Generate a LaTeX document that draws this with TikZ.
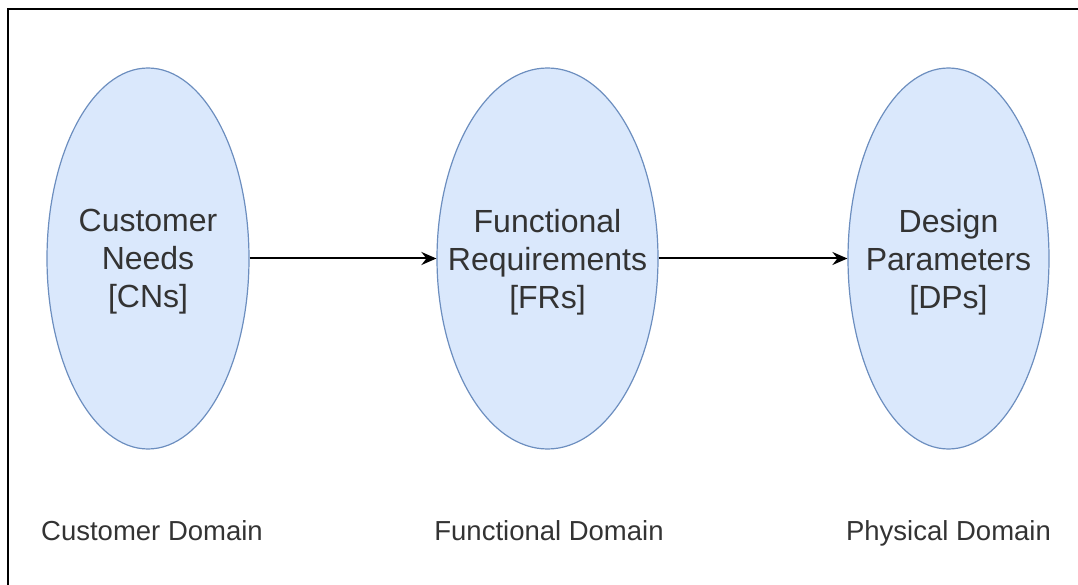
\documentclass[tikz,border=0pt]{standalone}
\usepackage{fontspec}
\setmainfont{Liberation Sans}
\usetikzlibrary{shapes.geometric,arrows.meta}
\definecolor{efill}{HTML}{DAE8FC}
\definecolor{edraw}{HTML}{6C8EBF}
\definecolor{txt}{HTML}{333333}
\tikzset{
  dom/.style={ellipse, draw=edraw, fill=efill, line width=1.2pt, inner sep=0pt,
    minimum height=381pt},
  inner/.style={text=txt, align=center, font=\fontsize{32pt}{38pt}\selectfont},
  domlabel/.style={text=txt, font=\fontsize{27.5pt}{32pt}\selectfont, anchor=base},
  conn/.style={draw=black, line width=2pt, -{Stealth[length=15pt,width=13pt,inset=5pt]}},
}
\begin{document}
\begin{tikzpicture}[x=1pt,y=-1pt]
\useasboundingbox (0,0) rectangle (1078,585);
\draw[line width=2.2pt, black] (8,9) rectangle (1100,600);
\node[dom, minimum width=202pt] (cn) at (148,258.5) {};
\node[dom, minimum width=221pt] (fr) at (547.5,258.5) {};
\node[dom, minimum width=201pt] (dp) at (948.5,258.5) {};
\node[inner] (cnt) at (148,262) {Customer\\Needs\\{[CNs]}};
\node[inner] (frt) at (547.5,262) {Functional\\Requirements\\{[FRs]}};
\node[inner] (dpt) at (948.5,262) {Design\\Parameters\\{[DPs]}};
\draw[conn] (cn.east) -- (fr.west);
\draw[conn] (fr.east) -- (dp.west);
\node[domlabel] (cd) at (152,540) {Customer Domain};
\node[domlabel] (fd) at (549,540) {Functional Domain};
\node[domlabel] (pd) at (948.5,540) {Physical Domain};
\end{tikzpicture}
\end{document}
